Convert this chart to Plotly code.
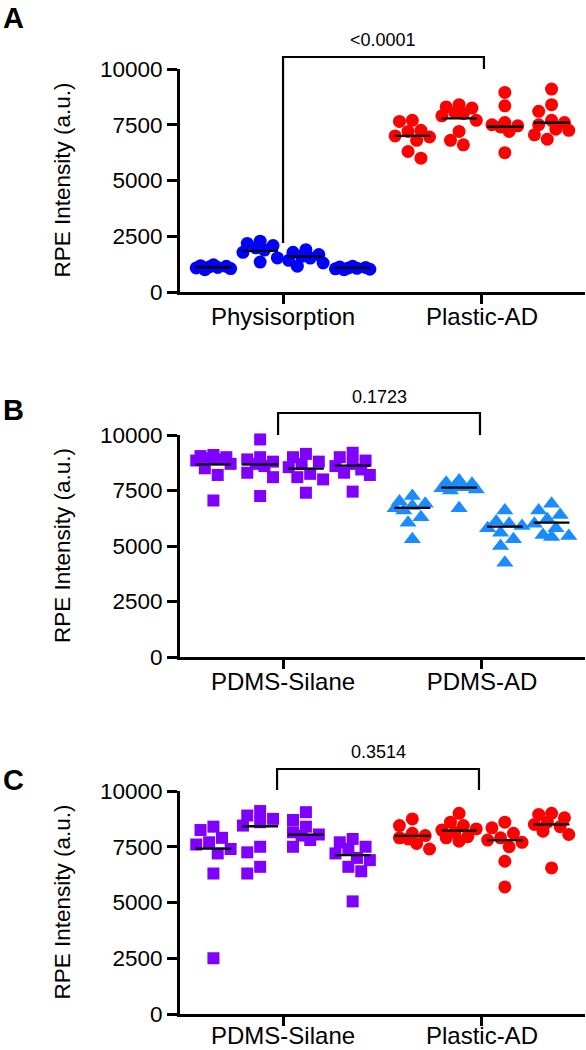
import math
import numpy as np
import plotly.graph_objects as go

# ---------------- data ----------------
Y_TICKS = [0, 2500, 5000, 7500, 10000]
Y_TICK_LABELS = ["0", "2500", "5000", "7500", "10000"]
Y_TITLE = "RPE Intensity (a.u.)"
PANEL_LETTERS = ["A", "B", "C"]

# Panel A
a_groups = ["Physisorption", "Plastic-AD"]
a_physisorption = [
    [1220, 1180, 1150, 1120, 1100, 1080, 1050, 1000],
    [2280, 2180, 2080, 1980, 1880, 1780, 1530, 1340],
    [1900, 1780, 1680, 1600, 1520, 1420, 1300, 1160],
    [1150, 1120, 1100, 1080, 1060, 1040, 1020, 1000],
]
a_plastic_ad = [
    [7700, 7650, 7250, 7200, 7000, 6950, 6800, 6300, 6000],
    [8400, 8300, 8250, 8050, 8000, 7900, 7700, 7200, 6800, 6600],
    [8950, 8350, 7600, 7500, 7450, 7400, 7200, 6250],
    [9100, 8400, 8100, 7700, 7600, 7500, 7300, 7250, 7050, 6850],
]
a_physisorption_lines = [1110, 1840, 1600, 1080]
a_plastic_ad_lines = [7000, 7790, 7410, 7590]
a_pvalue = "<0.0001"

# Panel B
b_groups = ["PDMS-Silane", "PDMS-AD"]
b_pdms_silane = [
    [9100, 9050, 9000, 8950, 8900, 8850, 8700, 8500, 8200, 7050],
    [9800, 9000, 8900, 8800, 8700, 8600, 8300, 8100, 7250],
    [9150, 9000, 8800, 8700, 8550, 8250, 8100, 8000, 7400],
    [9200, 9000, 8850, 8700, 8600, 8450, 8300, 8200, 7450],
]
b_pdms_ad = [
    [7250, 7000, 6900, 6800, 6700, 6600, 6300, 6050, 5300],
    [7950, 7850, 7800, 7700, 7650, 7600, 7550, 7500, 6700],
    [6600, 6100, 6000, 5900, 5800, 5600, 5300, 5000, 4250],
    [6900, 6600, 6400, 6200, 6000, 5800, 5500, 5450, 5400],
]
b_pdms_silane_lines = [8680, 8680, 8485, 8620]
b_pdms_ad_lines = [6717, 7625, 5870, 6050]
b_pvalue = "0.1723"

# Panel C
c_groups = ["PDMS-Silane", "Plastic-AD"]
c_pdms_silane = [
    [8400, 8250, 7900, 7700, 7600, 7400, 7200, 6300, 2500],
    [9100, 8900, 8750, 8600, 8450, 7500, 7250, 6600, 6300],
    [9050, 8700, 8400, 8150, 8050, 8000, 7800, 7500],
    [7850, 7700, 7500, 7400, 7200, 7000, 6900, 6600, 6400, 5050],
]
c_plastic_ad = [
    [8750, 8450, 8100, 8000, 7900, 7850, 7650, 7400],
    [9000, 8600, 8450, 8300, 8250, 8150, 7950, 7900, 7750],
    [8600, 8350, 8100, 7900, 7800, 7700, 7500, 6850, 5700],
    [9000, 8950, 8800, 8600, 8500, 8400, 8200, 8050, 6550],
]
c_pdms_silane_lines = [7420, 8420, 8045, 7120]
c_plastic_ad_lines = [7985, 8220, 7800, 8500]
c_pvalue = "0.3514"

# ---------------- styling / layout ----------------
W, H = 586, 1050
ML, MR = 180, 1
X_MIN, X_MAX = 0.482, 2.518
SUB_OFFSETS = [-0.35, -0.115, 0.115, 0.35]
LINE_HALF = 0.09
FONT = "Liberation Sans, Arial, Helvetica, sans-serif"

# panel pixel extents (top of 10000, bottom at 0)
panel_px = [(69, 292), (435, 657), (791, 1014)]
x_label_standoff = [-8, -8, -11]
PX_X = (W - ML - MR) / (X_MAX - X_MIN)

BLUE = "#0000ff"
RED = "#ff0000"
PURPLE = "#8000ff"
LIGHTBLUE = "#1a8cff"


def swarm(values, center, px_y, dist=12.0, step=4.3, nmax=4):
    """Deterministic beeswarm offsets (in data x units)."""
    cands = [0.0]
    for k in range(1, nmax + 1):
        cands += [-step * k, step * k]
    placed = []
    xs = [0.0] * len(values)
    order = np.argsort(values)[::-1]
    for i in order:
        y = values[i] * px_y
        best, bestd = 0.0, -1.0
        for c in cands:
            d = min([math.hypot(c - px, y - py) for px, py in placed], default=1e9)
            if d >= dist:
                best = c
                break
            if d > bestd:
                bestd, best = d, c
        placed.append((best, y))
        xs[i] = center + best / PX_X
    return xs


fig = go.Figure()

panels = [
    (a_groups, [a_physisorption, a_plastic_ad], [a_physisorption_lines, a_plastic_ad_lines],
     [(BLUE, "circle", 13), (RED, "circle", 13)], a_pvalue,
     dict(left=(1.0, 2200), right=(2.01, 10000), top=10538, text=11300)),
    (b_groups, [b_pdms_silane, b_pdms_ad], [b_pdms_silane_lines, b_pdms_ad_lines],
     [(PURPLE, "square", 12), (LIGHTBLUE, "triangle-up", 15)], b_pvalue,
     dict(left=(0.975, 10000), right=(1.99, 10000), top=10990, text=11700)),
    (c_groups, [c_pdms_silane, c_plastic_ad], [c_pdms_silane_lines, c_plastic_ad_lines],
     [(PURPLE, "square", 12), (RED, "circle", 13)], c_pvalue,
     dict(left=(0.97, 10045), right=(1.985, 10045), top=10987, text=11750)),
]

shapes = []
annotations = []
layout_axes = {}

for pi, (groups, series, lines, styles, pval, br) in enumerate(panels):
    n = "" if pi == 0 else str(pi + 1)
    xa, ya = "x" + n, "y" + n
    top_px, bot_px = panel_px[pi]
    px_y = (bot_px - top_px) / 10000.0
    lx, ly = [], []
    for gi, (grp_vals, grp_lines, (col, sym, sz)) in enumerate(zip(series, lines, styles)):
        gx = gi + 1
        xs_all, ys_all = [], []
        for si, vals in enumerate(grp_vals):
            c = gx + SUB_OFFSETS[si]
            xs_all += swarm(vals, c, px_y)
            ys_all += vals
            lx += [c - LINE_HALF, c + LINE_HALF, None]
            ly += [grp_lines[si], grp_lines[si], None]
        fig.add_trace(go.Scatter(
            x=xs_all, y=ys_all, mode="markers", xaxis=xa, yaxis=ya,
            marker=dict(color=col, symbol=sym, size=sz, line=dict(width=0)),
            cliponaxis=False, showlegend=False, hoverinfo="y"))
    fig.add_trace(go.Scatter(x=lx, y=ly, mode="lines", xaxis=xa, yaxis=ya,
                             line=dict(color="black", width=2.3),
                             showlegend=False, hoverinfo="skip"))

    y0 = 1 - bot_px / H
    y1 = 1 - top_px / H
    layout_axes["xaxis" + n] = dict(
        domain=[0, 1], anchor=ya, range=[X_MIN, X_MAX],
        tickmode="array", tickvals=[1, 2], ticktext=groups,
        showline=True, linewidth=3, linecolor="black",
        ticks="outside", ticklen=9, tickwidth=3, tickcolor="black",
        ticklabelstandoff=x_label_standoff[pi],
        showgrid=False, zeroline=False, automargin=False,
        tickfont=dict(family=FONT, size=24, color="black"))
    layout_axes["yaxis" + n] = dict(
        domain=[y0, y1], anchor=xa, range=[0, 10000],
        tickmode="array", tickvals=Y_TICKS, ticktext=Y_TICK_LABELS,
        showline=True, linewidth=3, linecolor="black",
        ticks="outside", ticklen=10, tickwidth=3, tickcolor="black",
        showgrid=False, zeroline=False, automargin=False,
        tickfont=dict(family=FONT, size=22.5, color="black"))

    def xd(v):
        return (v - X_MIN) / (X_MAX - X_MIN)

    def yd(v):
        return v / 10000.0

    xr, yr = xa + " domain", ya + " domain"
    (lxv, lyv), (rxv, ryv) = br["left"], br["right"]
    path = "M {} {} L {} {} L {} {} L {} {}".format(
        xd(lxv), yd(lyv), xd(lxv), yd(br["top"]), xd(rxv), yd(br["top"]), xd(rxv), yd(ryv))
    shapes.append(dict(type="path", path=path, xref=xr, yref=yr,
                       line=dict(color="black", width=2.2)))
    annotations.append(dict(text=pval, xref=xr, yref=yr,
                            x=xd((lxv + rxv) / 2), y=yd(br["text"]),
                            showarrow=False, xanchor="center", yanchor="middle",
                            font=dict(family=FONT, size=18, color="black")))
    # y-axis title
    annotations.append(dict(text=Y_TITLE, xref="paper", yref="paper",
                            x=(62 - ML) / (W - ML - MR), y=(y0 + y1) / 2,
                            textangle=-90, showarrow=False,
                            xanchor="center", yanchor="middle",
                            font=dict(family=FONT, size=22.5, color="black")))

letter_centers = [16, 408, 778]
for letter, cy in zip(PANEL_LETTERS, letter_centers):
    annotations.append(dict(text="<b>" + letter + "</b>", xref="paper", yref="paper",
                            x=(1 - ML) / (W - ML - MR), y=1 - (cy + 2) / H,
                            xanchor="left", yanchor="middle", showarrow=False,
                            font=dict(family=FONT, size=29, color="black")))

fig.update_layout(
    width=W, height=H,
    margin=dict(l=ML, r=MR, t=0, b=0, pad=0),
    plot_bgcolor="white", paper_bgcolor="white",
    showlegend=False,
    shapes=shapes, annotations=annotations,
    font=dict(family=FONT, color="black"),
    **layout_axes,
)

fig.write_html("out.html",
               config={"displayModeBar": False},
               post_script="document.body.style.margin='0';document.body.style.overflow='hidden';")
